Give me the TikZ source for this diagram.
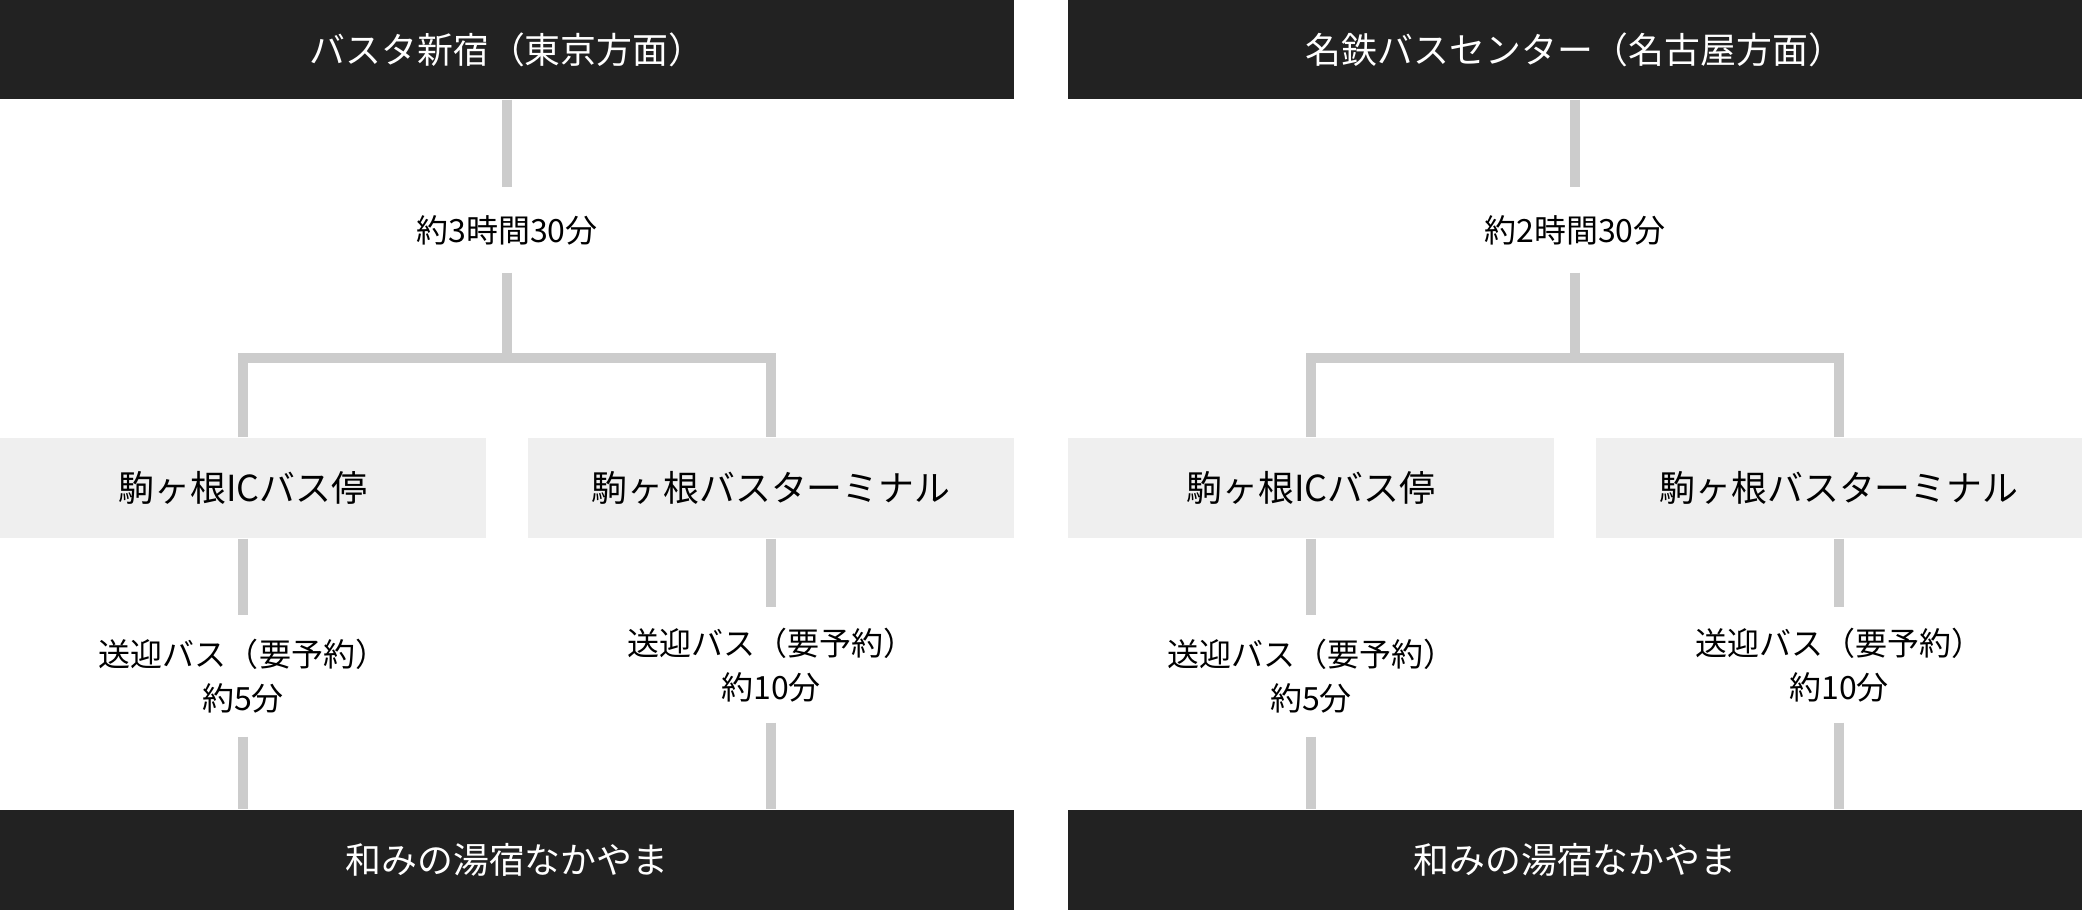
\documentclass[tikz,border=0pt]{standalone}
\usepackage{fontspec}
\setmainfont{Noto Sans CJK JP}
\definecolor{boxdark}{HTML}{222222}
\definecolor{boxlight}{HTML}{EFEFEF}
\definecolor{linkgray}{HTML}{CCCCCC}

\begin{document}
\begin{tikzpicture}[x=0.01cm,y=-0.01cm,
  darkbox/.style={fill=boxdark,text=white,inner sep=0pt,minimum width=10.14cm,minimum height=1cm,font=\fontsize{10.2}{12}\selectfont},
  stopbox/.style={fill=boxlight,inner sep=0pt,minimum width=4.86cm,minimum height=1cm,font=\fontsize{10.2}{12}\selectfont},
  timelabel/.style={inner sep=0pt,align=center,font=\fontsize{9.1}{12.6}\selectfont},
  link/.style={draw=linkgray,line width=0.1cm}]
\useasboundingbox (0,0) rectangle (2082,910);
% Tokyo side
\node[darkbox,minimum height=0.99cm] (tokyo) at (507,49.5) {バスタ新宿（東京方面）};
\node[timelabel,minimum height=0.84cm] (t1) at (507,230) {約3時間30分};
\coordinate (j1) at (507,358);
\node[stopbox] (ic1) at (243,488) {駒ヶ根ICバス停};
\node[stopbox] (term1) at (771,488) {駒ヶ根バスターミナル};
\node[timelabel,minimum height=1.2cm] (r1) at (243,676) {送迎バス（要予約）\\約5分};
\node[timelabel,minimum height=1.14cm] (s1) at (771,665) {送迎バス（要予約）\\約10分};
\node[darkbox] (naka1) at (507,860) {和みの湯宿なかやま};
\draw[link] (tokyo) -- (t1);
\draw[link] (t1) -- (j1);
\draw[link] (ic1) |- (j1) -| (term1);
\draw[link] (ic1) -- (r1);
\draw[link] (r1) -- (r1 |- naka1.north);
\draw[link] (term1) -- (s1);
\draw[link] (s1) -- (s1 |- naka1.north);
% Nagoya side
\node[darkbox,minimum height=0.99cm] (nagoya) at (1575,49.5) {名鉄バスセンター（名古屋方面）};
\node[timelabel,minimum height=0.84cm] (t2) at (1575,230) {約2時間30分};
\coordinate (j2) at (1575,358);
\node[stopbox] (ic2) at (1311,488) {駒ヶ根ICバス停};
\node[stopbox] (term2) at (1839,488) {駒ヶ根バスターミナル};
\node[timelabel,minimum height=1.2cm] (r2) at (1311,676) {送迎バス（要予約）\\約5分};
\node[timelabel,minimum height=1.14cm] (s2) at (1839,665) {送迎バス（要予約）\\約10分};
\node[darkbox] (naka2) at (1575,860) {和みの湯宿なかやま};
\draw[link] (nagoya) -- (t2);
\draw[link] (t2) -- (j2);
\draw[link] (ic2) |- (j2) -| (term2);
\draw[link] (ic2) -- (r2);
\draw[link] (r2) -- (r2 |- naka2.north);
\draw[link] (term2) -- (s2);
\draw[link] (s2) -- (s2 |- naka2.north);
\end{tikzpicture}
\end{document}
